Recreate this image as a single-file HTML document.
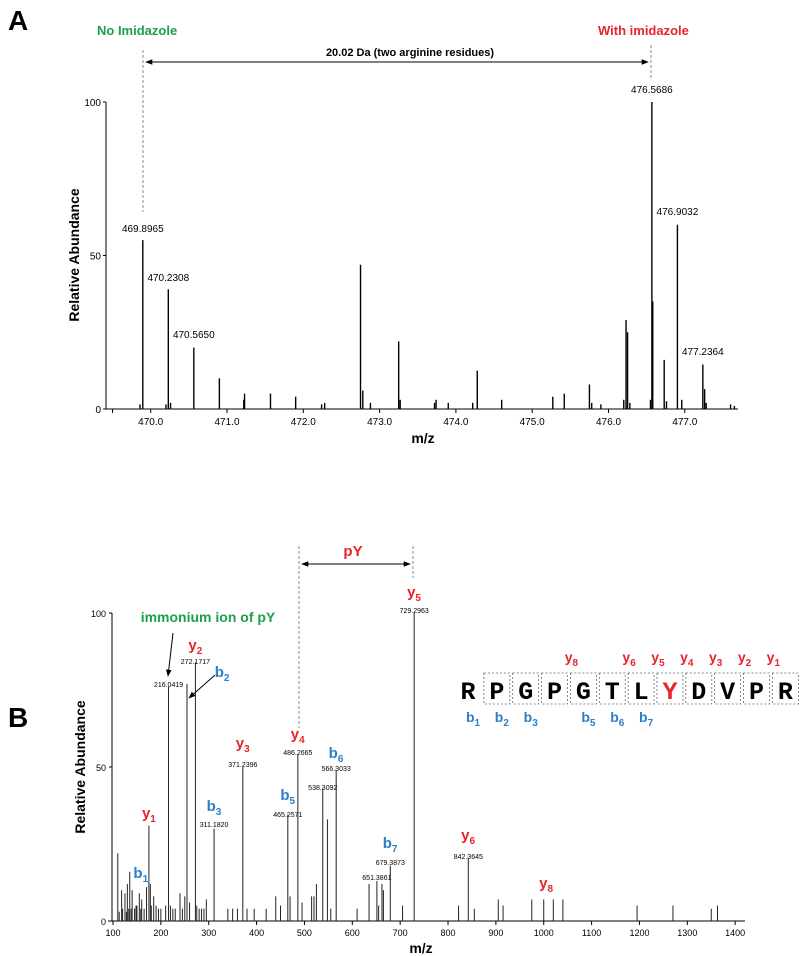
<!DOCTYPE html>
<html><head><meta charset="utf-8"><style>
body{margin:0;background:#fff;}
svg{display:block;font-family:"Liberation Sans",sans-serif;}
</style></head><body>
<svg id="fig" width="800" height="956" viewBox="0 0 800 956" xmlns="http://www.w3.org/2000/svg">
<defs>
<marker id="ah" viewBox="0 0 10 10" refX="9" refY="5" markerWidth="7" markerHeight="7" orient="auto-start-reverse"><path d="M0,1 L10,5 L0,9 z" fill="#000"/></marker>
</defs>
<text x="8" y="30" font-size="28" font-weight="bold">A</text>
<text x="97" y="35" font-size="13" font-weight="bold" fill="#1f9e4f">No Imidazole</text>
<text x="598" y="35" font-size="13" font-weight="bold" fill="#e8232a">With imidazole</text>
<text x="410" y="56" font-size="11" font-weight="bold" text-anchor="middle">20.02 Da (two arginine residues)</text>
<line x1="146" y1="62" x2="648" y2="62" stroke="#000" stroke-width="1" marker-start="url(#ah)" marker-end="url(#ah)"/>
<line x1="143" y1="50" x2="143" y2="212" stroke="#888" stroke-width="1" stroke-dasharray="3,2"/>
<line x1="651" y1="45" x2="651" y2="80" stroke="#888" stroke-width="1" stroke-dasharray="3,2"/>
<text transform="translate(79,255) rotate(-90)" font-size="14" font-weight="bold" text-anchor="middle">Relative Abundance</text>
<text x="423" y="443" font-size="14" font-weight="bold" text-anchor="middle">m/z</text>
<g id="chartA"></g>

<text x="8" y="727" font-size="28" font-weight="bold">B</text>
<text x="353" y="556" font-size="15" font-weight="bold" fill="#e8232a" text-anchor="middle">pY</text>
<line x1="302" y1="564" x2="410" y2="564" stroke="#000" stroke-width="1" marker-start="url(#ah)" marker-end="url(#ah)"/>
<line x1="299" y1="546" x2="299" y2="728" stroke="#888" stroke-width="1" stroke-dasharray="3,2"/>
<line x1="413" y1="546" x2="413" y2="578" stroke="#888" stroke-width="1" stroke-dasharray="3,2"/>
<text x="208" y="622" font-size="14" font-weight="bold" fill="#1f9e4f" text-anchor="middle">immonium ion of pY</text>
<line x1="173" y1="633" x2="168" y2="676" stroke="#000" stroke-width="1" marker-end="url(#ah)"/>
<line x1="215" y1="675" x2="189" y2="698" stroke="#000" stroke-width="1" marker-end="url(#ah)"/>
<text transform="translate(85,767) rotate(-90)" font-size="14" font-weight="bold" text-anchor="middle">Relative Abundance</text>
<text x="421" y="953" font-size="14" font-weight="bold" text-anchor="middle">m/z</text>
<g id="chartB"></g>
<g id="seq"></g>
</svg>
<script>
const mzA = [469.86,469.8965,470.20,470.2308,470.26,470.5650,470.90,471.22,471.23,471.57,471.90,472.24,472.28,472.75,472.78,472.88,473.25,473.27,473.72,473.74,473.90,474.22,474.28,474.60,475.27,475.42,475.75,475.78,475.90,476.20,476.23,476.25,476.28,476.55,476.5686,476.58,476.73,476.76,476.9032,476.96,477.2364,477.26,477.28,477.60,477.65];
const intA = [1.5,55,1.5,39,2,20,10,3,5,5,4,1.5,2,47,6,2,22,3,2,3,2,2,12.5,3,4,5,8,2,1.5,3,29,25,2,3,100,35,16,2.5,60,3,14.5,6.5,2,1.5,1];
const labelMzA = ["469.8965","470.2308","470.5650","476.5686","476.9032","477.2364"];
const labelYA = [228,277,334,89,211,351];
const ticksXA = [470,471,472,473,474,475,476,477];
const ticksYA = [0,50,100];

const mzB = [110,113,118,120,125,128,130,133,135,138,140,145,148,150,155,158,160,165,170,175,178,180,185,190,195,200,210,216.0419,220,225,230,240,245,250,254.6,260,272.1717,275,280,285,290,295,311.182,340,350,360,371.2396,380,395,420,440,450,465.2571,470,486.2665,495,515,520,525,538.3092,548,555,566.3033,610,635,651.3861,655,662,665,679.3873,705,729.2963,822,842.3645,855,905,915,975,1000,1020,1040,1195,1270,1350,1363];
const intB = [22,3,10,4,9,3,12,4,16,4,10,4,5,5,9,4,7,4,11,31,12,5,8,5,4,4,5,76,5,4,4,9,4,8,77,6,84,5,4,4,4,7,30,4,4,4,50,4,4,4,8,5,34.5,8,54,6,8,8,12,43,33,4,49,4,12,13,5,12,10,18,5,100,5,20.5,4,7,5,7,7,7,7,5,5,4,5];
const peakLabelsB = ["216.0419","272.1717","311.1820","371.2396","465.2571","486.2665","538.3092","566.3033","651.3861","679.3873","729.2963","842.3645"];
const peakLabelYB = [684,661,824,764,814,752,787,768,877,862,610,856];
const ionMzB = [272,175,158,328,311,371,465,486,566,679,729,842,1005];
const ionTypeB = ["y","y","b","b","b","y","b","y","b","b","y","y","y"];
const ionNumB = ["2","1","1","2","3","3","5","4","6","7","5","6","8"];
const ionYB = [645,813,873,672,806,743,795,734,753,843,592,835,883];
const ticksXB = [100,200,300,400,500,600,700,800,900,1000,1100,1200,1300,1400];
const ticksYB = [0,50,100];

const seqLetters = ["R","P","G","P","G","T","L","Y","D","V","P","R"];
const yIonIdx = [4,6,7,8,9,10,11];
const yIonNum = ["8","6","5","4","3","2","1"];
const bIonIdx = [0,1,2,4,5,6];
const bIonNum = ["1","2","3","5","6","7"];

const NS = "http://www.w3.org/2000/svg";
function mk(tag, attrs, parent, txt){
  const e = document.createElementNS(NS, tag);
  for (const k in attrs) e.setAttribute(k, attrs[k]);
  if (txt !== undefined) e.textContent = txt;
  parent.appendChild(e);
  return e;
}
const RED="#e8232a", BLUE="#2a7fc8";

const xA = v => 150.7 + (v - 470) * 76.3;
const yA = v => 409 - v * 3.07;
const gA = document.getElementById("chartA");
let e;
e = mk("line",{x1:103,y1:409,x2:738,y2:409,stroke:"#000","stroke-width":1},gA);


e = mk("line",{x1:106,y1:102,x2:106,y2:409,stroke:"#000","stroke-width":1},gA);


ticksXA.forEach(t=>{
  mk("line",{x1:xA(t),y1:409,x2:xA(t),y2:413,stroke:"#000"},gA);
  e = mk("text",{x:xA(t),y:425,"font-size":10,"text-anchor":"middle"},gA,t.toFixed(1));
  
  
});
mk("line",{x1:xA(469.5),y1:409,x2:xA(469.5),y2:413,stroke:"#000"},gA);
ticksYA.forEach(t=>{
  mk("line",{x1:103,y1:yA(t),x2:106,y2:yA(t),stroke:"#000"},gA);
  e = mk("text",{x:101,y:yA(t)+4,"font-size":10,"text-anchor":"end"},gA,String(t));
  
  
});
mzA.forEach((m,i)=>{
  e = mk("line",{x1:xA(m),y1:409,x2:xA(m),y2:yA(intA[i]),stroke:"#000","stroke-width":1.4},gA);
  
  
});
labelMzA.forEach((l,i)=>{
  e = mk("text",{x:xA(parseFloat(l)),y:labelYA[i]+4,"font-size":10,"text-anchor":"middle"},gA,l);
  
  
});

const xB = v => 113 + (v - 100) * 0.4786;
const yB = v => 921 - v * 3.08;
const gB = document.getElementById("chartB");
e = mk("line",{x1:108,y1:921,x2:745,y2:921,stroke:"#000","stroke-width":1},gB);


e = mk("line",{x1:112,y1:613,x2:112,y2:921,stroke:"#000","stroke-width":1},gB);


ticksXB.forEach(t=>{
  mk("line",{x1:xB(t),y1:921,x2:xB(t),y2:925,stroke:"#000"},gB);
  e = mk("text",{x:xB(t),y:936,"font-size":9,"text-anchor":"middle"},gB,String(t));
  
  
});
ticksYB.forEach(t=>{
  mk("line",{x1:109,y1:yB(t),x2:112,y2:yB(t),stroke:"#000"},gB);
  e = mk("text",{x:106,y:yB(t)+4,"font-size":9,"text-anchor":"end"},gB,String(t));
  
  
});
mzB.forEach((m,i)=>{
  e = mk("line",{x1:xB(m),y1:921,x2:xB(m),y2:yB(intB[i]),stroke:"#222","stroke-width":1},gB);
  
  
});
peakLabelsB.forEach((l,i)=>{
  e = mk("text",{x:xB(parseFloat(l)),y:peakLabelYB[i]+3,"font-size":7,"text-anchor":"middle"},gB,l);
  
  
});
ionMzB.forEach((m,i)=>{
  const t = mk("text",{x:xB(m),y:ionYB[i]+5,"font-size":15,"font-weight":"bold",fill:ionTypeB[i]==="y"?RED:BLUE,"text-anchor":"middle"},gB);
  
  
  mk("tspan",{},t,ionTypeB[i]);
  mk("tspan",{dy:4,"font-size":10},t,ionNumB[i]);
});

const gS = document.getElementById("seq");
const lx = i => 468 + 28.85*i;
seqLetters.forEach((L,i)=>{
  if (i>0){
    e = mk("rect",{x:lx(i)-13,y:673,width:26,height:31,fill:"none",stroke:"#666","stroke-width":0.8,"stroke-dasharray":"2,2"},gS);
    
    
  }
  e = mk("text",{x:lx(i),y:699,"font-family":"Liberation Mono, monospace","font-size":25,"font-weight":"bold","text-anchor":"middle",fill:L==="Y"&&i===7?RED:"#000"},gS,L);
  
  
});
yIonIdx.forEach((idx,k)=>{
  const t = mk("text",{x:lx(idx)-12,y:662,"font-size":14,"font-weight":"bold",fill:RED,"text-anchor":"middle"},gS);
  
  
  mk("tspan",{},t,"y");
  mk("tspan",{dy:4,"font-size":10},t,yIonNum[k]);
});
bIonIdx.forEach((idx,k)=>{
  const t = mk("text",{x:lx(idx)+5,y:722,"font-size":14,"font-weight":"bold",fill:BLUE,"text-anchor":"middle"},gS);
  
  
  mk("tspan",{},t,"b");
  mk("tspan",{dy:4,"font-size":10},t,bIonNum[k]);
});
</script>
</body></html>
